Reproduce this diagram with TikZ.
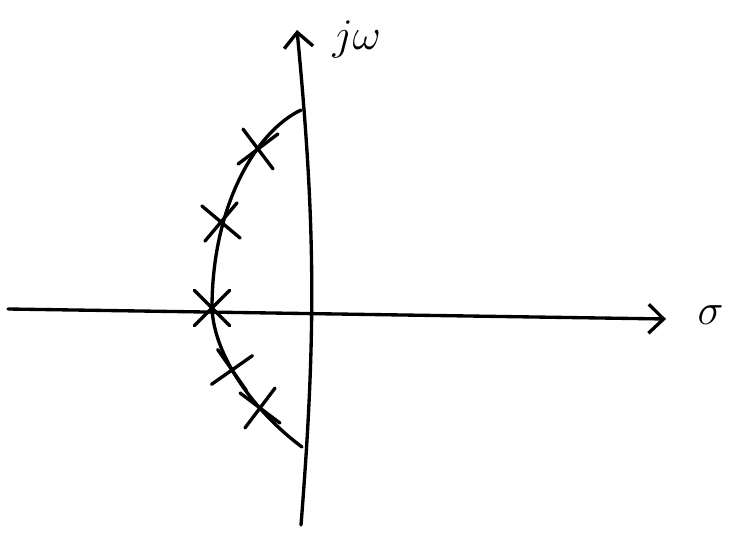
\documentclass[tikz,border=0pt]{standalone}
\usetikzlibrary{arrows.meta, shapes.misc}

\begin{document}
\begin{tikzpicture}[line width=1.9pt, line cap=round,
    axis/.style={-{Straight Barb[length=0.3cm, width=0.58cm, line width=1.9pt]}},
    pole/.style={draw, cross out, minimum size=0.64cm, inner sep=0pt, line width=1.9pt}]
        \useasboundingbox (-6,-4.44) rectangle (8.62,6.24);
        % axes
        \coordinate (xl) at (-5.84,0.06);
        \coordinate (xr) at (7.32,-0.14);
        \coordinate (yb) at (0.02,-4.26);
        \coordinate (yt) at (-0.06,5.64);
        \draw[axis] (xl) -- (xr);
        \draw[axis] (yb) to[bend right=5] (yt);
        \node[font=\fontsize{27}{29}\selectfont, anchor=west] (jw) at (0.5,5.45) {$j\omega$};
        \node[font=\fontsize{30}{32}\selectfont, anchor=west] (sig) at (7.8,-0.06) {$\sigma$};
        % root locus arc
        \coordinate (at) at (0.02,4.04);
        \coordinate (al) at (-1.76,0.08);
        \coordinate (ab) at (0.04,-2.7);
        \draw (at) .. controls (-0.9,3.6) and (-1.76,2.1) .. (al)
              .. controls (-1.72,-0.9) and (-0.9,-2.0) .. (ab);
        % poles
        \node[pole, rotate=-8] (p1) at (-0.84,3.26) {};
        \node[pole, rotate=5] (p2) at (-1.58,1.8) {};
        \node[pole] (p3) at (-1.76,0.08) {};
        \node[pole, rotate=-10] (p4) at (-1.36,-1.16) {};
        \node[pole, rotate=8] (p5) at (-0.8,-1.92) {};
    \end{tikzpicture}
\end{document}
